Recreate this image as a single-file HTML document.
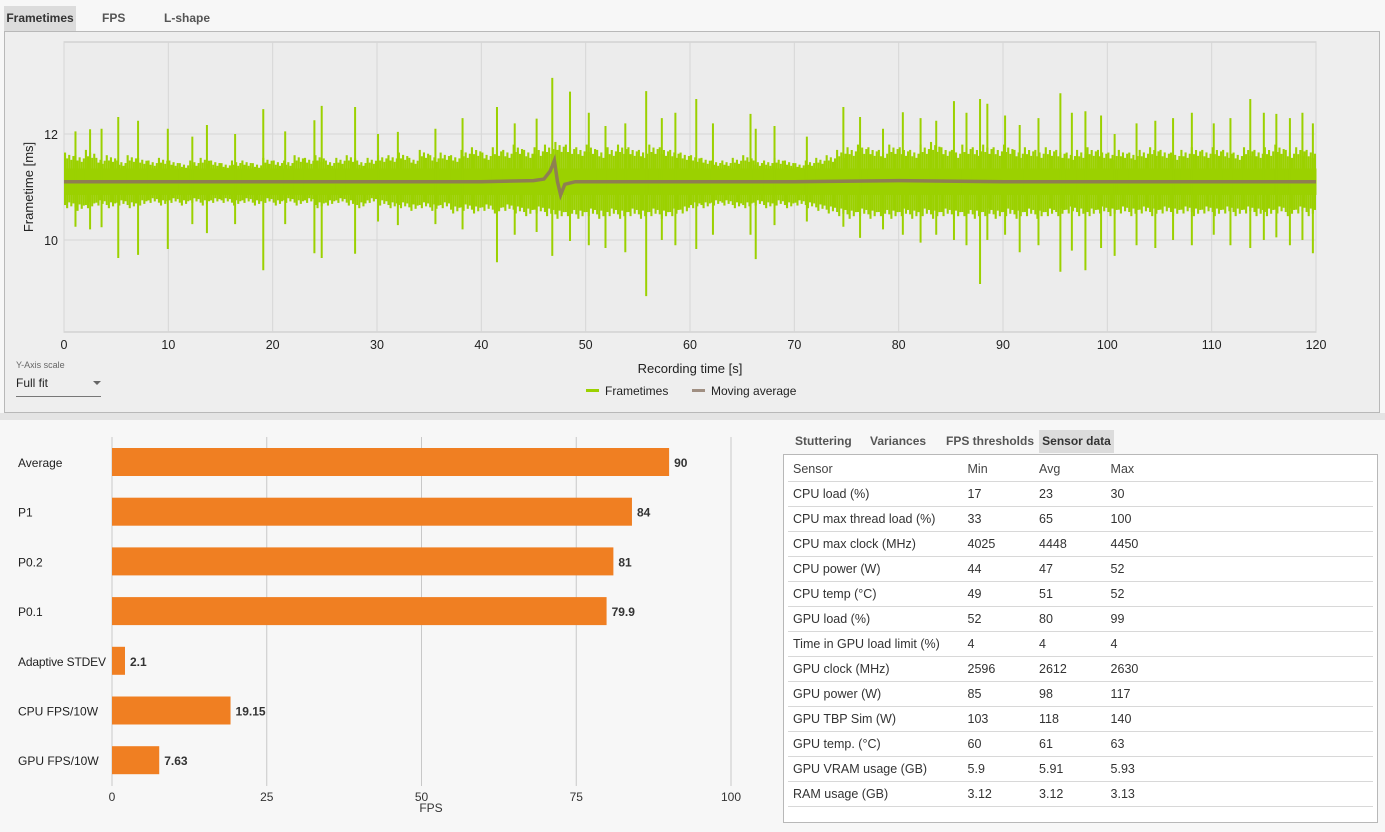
<!DOCTYPE html>
<html><head><meta charset="utf-8">
<style>
body{margin:0;width:1385px;height:832px;background:#f7f7f7;font-family:"Liberation Sans",sans-serif;overflow:hidden;position:relative}
.abs{position:absolute}
.tab{position:absolute;font-size:12px;font-weight:bold;color:#555;top:6px;height:25px;line-height:25px}
.tab2{position:absolute;font-size:12px;font-weight:bold;color:#555;top:430px;height:23px;line-height:23px}
table{border-collapse:collapse;font-size:12.5px;color:#333}
td{height:24px;border-bottom:1px solid #d8d8d8;padding:0;}
</style></head><body>
<div class="tab" style="left:4px;width:72px;background:#dcdcdc;text-align:center;color:#333">Frametimes</div>
<div class="tab" style="left:102px">FPS</div>
<div class="tab" style="left:164px">L-shape</div>
<div class="abs" style="left:4px;top:31px;width:1374px;height:380px;border:1px solid #b8b8b8;background:#eeeeee"></div>
<div class="abs" style="left:0;top:413px;width:1385px;height:7px;background:#e4e4e4"></div>

<svg class="abs" style="left:0;top:0" width="1385" height="412" id="ft"></svg>

<div class="abs" style="left:16px;top:360px;font-size:9px;color:#666">Y-Axis scale</div>
<div class="abs" style="left:16px;top:376px;width:85px;height:20px;border-bottom:1px solid #777;font-size:12px;color:#222">Full fit<span style="position:absolute;left:77px;top:5px;width:0;height:0;border-left:4px solid transparent;border-right:4px solid transparent;border-top:4px solid #666"></span></div>

<svg class="abs" style="left:0;top:420px" width="770" height="412" id="bars"></svg>

<div class="tab2" style="left:795px">Stuttering</div>
<div class="tab2" style="left:870px">Variances</div>
<div class="tab2" style="left:946px">FPS thresholds</div>
<div class="tab2" style="left:1039px;width:75px;text-align:center;background:#dcdcdc;color:#333">Sensor data</div>
<div class="abs" style="left:783px;top:454px;width:593px;height:367px;border:1px solid #b8b8b8;background:#fff">
<table id="sens" style="margin-left:4px;margin-top:2px;width:585px"></table>
</div>

<script>
const NS="http://www.w3.org/2000/svg";
function mk(p,t,a){const e=document.createElementNS(NS,t);for(const k in a)e.setAttribute(k,a[k]);p.appendChild(e);return e;}
// ---------- Frametimes data ----------
const xTicks=[0,10,20,30,40,50,60,70,80,90,100,110,120];
const yTicks=[10,12];
const bandHi=[11.65,11.6,11.7,11.55,11.6,11.5,11.6,11.55,11.5,11.55,11.5,11.45,11.5,11.55,11.5,11.45,11.5,11.5,11.45,11.55,11.5,11.5,11.6,11.55,11.6,11.5,11.55,11.6,11.5,11.55,11.6,11.6,11.65,11.55,11.7,11.6,11.65,11.6,11.7,11.75,11.65,11.75,11.7,11.8,11.7,11.75,11.8,11.85,11.8,11.75,11.8,11.7,11.75,11.8,11.75,11.7,11.8,11.75,11.7,11.65,11.6,11.55,11.5,11.5,11.55,11.6,11.5,11.5,11.55,11.5,11.45,11.5,11.55,11.6,11.7,11.75,11.8,11.75,11.7,11.8,11.75,11.7,11.8,11.85,11.75,11.7,11.8,11.75,11.8,11.75,11.8,11.7,11.75,11.7,11.75,11.7,11.65,11.7,11.75,11.7,11.65,11.7,11.65,11.7,11.75,11.7,11.65,11.7,11.75,11.7,11.75,11.7,11.65,11.75,11.7,11.75,11.8,11.7,11.75,11.7];
const bandLo=[10.6,10.55,10.6,10.65,10.6,10.65,10.6,10.65,10.7,10.65,10.7,10.65,10.7,10.65,10.7,10.7,10.65,10.7,10.65,10.7,10.65,10.7,10.65,10.7,10.6,10.65,10.7,10.65,10.6,10.7,10.65,10.6,10.6,10.55,10.6,10.55,10.6,10.5,10.55,10.5,10.55,10.5,10.55,10.5,10.45,10.5,10.45,10.4,10.45,10.4,10.45,10.4,10.45,10.4,10.45,10.4,10.45,10.4,10.45,10.5,10.6,10.6,10.65,10.65,10.6,10.6,10.65,10.6,10.65,10.6,10.65,10.6,10.55,10.5,10.45,10.4,10.45,10.4,10.45,10.4,10.45,10.4,10.45,10.4,10.45,10.4,10.45,10.4,10.45,10.4,10.45,10.4,10.45,10.4,10.45,10.45,10.5,10.45,10.45,10.5,10.45,10.5,10.45,10.5,10.45,10.5,10.45,10.5,10.45,10.5,10.45,10.5,10.45,10.5,10.45,10.45,10.5,10.45,10.5,10.45];
const spikeT=[1.1,2.5,3.6,5.2,7.1,9.95,12.3,13.7,16.4,19.1,21.2,24.0,24.7,27.9,30.1,32.0,35.6,38.2,41.5,43.2,45.3,46.8,48.5,50.3,51.9,53.8,55.8,57.3,58.6,60.6,62.2,65.8,66.3,68.1,71.2,74.7,76.3,78.5,80.4,82.1,83.6,85.3,86.5,87.8,88.5,90.2,91.6,93.4,95.5,96.6,97.9,99.4,100.7,102.8,104.6,106.3,108.1,110.2,111.8,113.7,115.0,116.2,117.5,118.7,119.7];
const spikeUp=[12.05,12.09,12.1,12.32,12.25,12.1,11.95,12.17,12.0,12.47,12.05,12.26,12.53,12.51,12.0,12.04,12.1,12.3,12.51,12.2,12.29,13.06,12.8,12.4,12.15,12.2,12.81,12.3,12.4,12.66,12.2,12.38,12.1,12.15,11.95,12.51,12.32,12.1,12.41,12.3,12.25,12.62,12.4,12.66,12.57,12.35,12.17,12.3,12.77,12.4,12.43,12.35,12.0,12.2,12.25,12.3,12.4,12.2,12.3,12.66,12.4,12.38,12.3,12.4,12.2];
const spikeDn=[10.25,10.2,10.24,9.66,9.72,9.83,10.3,10.13,10.3,9.43,10.3,9.75,9.66,9.74,10.35,10.28,10.3,10.2,9.58,10.1,10.15,9.7,9.98,9.9,9.85,9.77,8.94,10.0,9.9,9.83,10.1,10.1,9.64,10.28,10.35,10.25,10.04,10.2,10.1,9.95,10.1,10.0,9.9,9.17,10.0,10.1,9.77,9.9,9.4,9.8,9.43,9.85,9.7,9.9,9.85,10.0,9.9,10.1,9.9,9.85,10.0,10.05,9.9,10.0,9.75];
const maT=[0,10,20,30,40,45,46,46.6,47,47.3,47.6,48,49,60,70,80,90,100,110,120];
const maV=[11.1,11.1,11.1,11.1,11.1,11.12,11.15,11.3,11.5,11.1,10.85,11.05,11.1,11.1,11.1,11.12,11.1,11.1,11.1,11.1];

const ft=document.getElementById('ft');
const X0=64,X1=1316,Y0=42,Y1=332;
const xs=t=>X0+t/120*(X1-X0);
const ys=v=>240-(v-10)*53;
const plot=mk(ft,'rect',{x:X0,y:Y0,width:X1-X0,height:Y1-Y0,fill:'#ececec',stroke:'#c4c4c4'});

xTicks.forEach(t=>{const l=mk(ft,'line',{x1:xs(t),x2:xs(t),y1:Y0,y2:Y1,stroke:'#d6d6d6'});
 const tx=mk(ft,'text',{x:xs(t),y:349,'font-size':12.5,'text-anchor':'middle',fill:'#222'});tx.textContent=t;});
yTicks.forEach(v=>{const l=mk(ft,'line',{x1:X0,x2:X1,y1:ys(v),y2:ys(v),stroke:'#d6d6d6'});
 const tx=mk(ft,'text',{x:58,y:ys(v)+5,'font-size':12.5,'text-anchor':'end',fill:'#222'});tx.textContent=v;});
const G='#9bd100';
bandHi.forEach((h,i)=>{const lo=bandLo[i];
 for(let k=0;k<5;k++){const f=[1,0.8,0.92,0.75,0.88][k],g=[0.88,1,0.78,0.93,0.82][k];const m=11.1;
  const r=mk(ft,'rect',{x:xs(i+k*0.2),y:ys(m+(h-m)*f),width:2.1,height:ys(m-(m-lo)*g)-ys(m+(h-m)*f),fill:G});
  }
 const c=mk(ft,'rect',{x:xs(i),y:ys(11.35),width:xs(1)-xs(0)+0.5,height:ys(10.85)-ys(11.35),fill:G});
 });
spikeT.forEach((t,i)=>{const l=mk(ft,'line',{x1:xs(t),x2:xs(t),y1:ys(spikeUp[i]),y2:ys(spikeDn[i]),stroke:G,'stroke-width':2});
 });
const ma=mk(ft,'polyline',{points:maT.map((t,i)=>xs(t)+','+ys(maV[i])).join(' '),fill:'none',stroke:'#8f7f52','stroke-width':3.5});

let t1=mk(ft,'text',{x:690,y:373,'font-size':13,'text-anchor':'middle',fill:'#222'});t1.textContent='Recording time [s]';

let t2=mk(ft,'text',{x:33,y:187,'font-size':13,'text-anchor':'middle',fill:'#222',transform:'rotate(-90 33 187)'});t2.textContent='Frametime [ms]';

let lg1=mk(ft,'rect',{x:586,y:389,width:13,height:3,fill:G});
let lt1=mk(ft,'text',{x:605,y:395,'font-size':12,fill:'#222'});lt1.textContent='Frametimes';
let lg2=mk(ft,'rect',{x:692,y:389,width:13,height:3,fill:'#a08f82'});
let lt2=mk(ft,'text',{x:711,y:395,'font-size':12,fill:'#222'});lt2.textContent='Moving average';

// ---------- Bar chart ----------
const barLabels=['Average','P1','P0.2','P0.1','Adaptive STDEV','CPU FPS/10W','GPU FPS/10W'];
const barValues=[90,84,81,79.9,2.1,19.15,7.63];
const barText=['90','84','81','79.9','2.1','19.15','7.63'];
const fpsTicks=[0,25,50,75,100];
const bs=document.getElementById('bars');
const bx=v=>112+v*6.19;
fpsTicks.forEach(v=>{const l=mk(bs,'line',{x1:bx(v),x2:bx(v),y1:17,y2:366,stroke:'#c8c8c8'});
 const t=mk(bs,'text',{x:bx(v),y:381,'font-size':12,'text-anchor':'middle',fill:'#333'});t.textContent=v;});
barLabels.forEach((lab,i)=>{const cy=42+i*49.7;
 const r=mk(bs,'rect',{x:bx(0),y:cy-14,width:bx(barValues[i])-bx(0),height:28,fill:'#f07f22'});
 const t=mk(bs,'text',{x:18,y:cy+5,'font-size':12,fill:'#222'});t.textContent=lab;
 if(lab==='Adaptive STDEV')t.setAttribute('textLength','88');
 const v=mk(bs,'text',{x:bx(barValues[i])+5,y:cy+5,'font-size':12,'font-weight':'bold',fill:'#333'});v.textContent=barText[i];});
let ft2=mk(bs,'text',{x:431,y:392,'font-size':12,'text-anchor':'middle',fill:'#333'});ft2.textContent='FPS';

// ---------- Sensor table ----------
const sensors=[['Sensor','Min','Avg','Max'],['CPU load (%)','17','23','30'],['CPU max thread load (%)','33','65','100'],['CPU max clock (MHz)','4025','4448','4450'],['CPU power (W)','44','47','52'],['CPU temp (°C)','49','51','52'],['GPU load (%)','52','80','99'],['Time in GPU load limit (%)','4','4','4'],['GPU clock (MHz)','2596','2612','2630'],['GPU power (W)','85','98','117'],['GPU TBP Sim (W)','103','118','140'],['GPU temp. (°C)','60','61','63'],['GPU VRAM usage (GB)','5.9','5.91','5.93'],['RAM usage (GB)','3.12','3.12','3.13']];
const tb=document.getElementById('sens');
sensors.forEach((row,i)=>{const tr=document.createElement('tr');
 
 
 row.forEach((c,j)=>{const td=document.createElement('td');td.textContent=c;td.style.width=['176px','72px','72px','265px'][j];td.style.paddingLeft=j?'0':'5px';if(i==0)td.style.color='#444';tr.appendChild(td);});
 tb.appendChild(tr);});
</script>
</body></html>
